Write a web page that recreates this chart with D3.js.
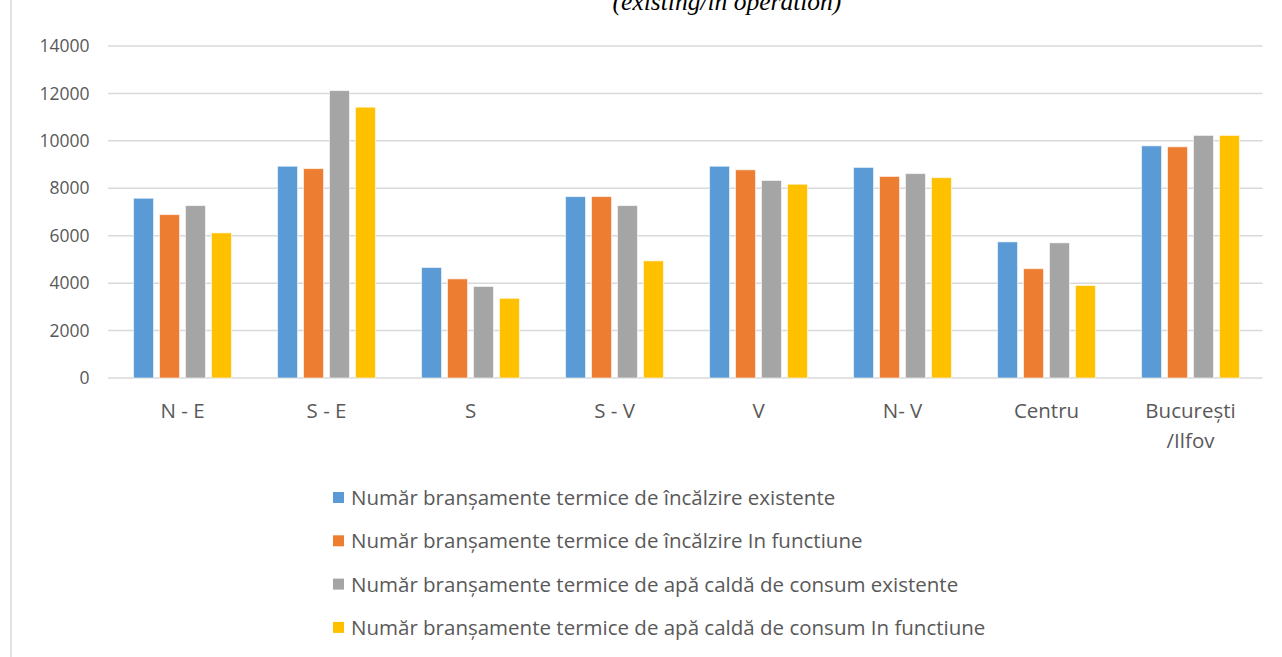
<!DOCTYPE html>
<meta charset="utf-8">
<style>
body { margin: 0; background: #fff; }
.grid line { stroke: #d9d9d9; stroke-width: 1.5px; }
.axis text, .cat text { fill: #595959; font-family: "Open Sans", "Liberation Sans", sans-serif; }
.axis path, .axis line { display: none; }
.legend text { fill: #595959; font-family: "Open Sans", "Liberation Sans", sans-serif; }
</style>
<svg width="1282" height="657"></svg>
<script src="https://cdn.jsdelivr.net/npm/d3@7"></script>
<script>

var regions = ["N - E", "S - E", "S", "S - V", "V", "N- V", "Centru", "București\n/Ilfov"];

var seriesNames = [
  "Număr branșamente termice de încălzire existente",
  "Număr branșamente termice de încălzire In functiune",
  "Număr branșamente termice de apă caldă de consum existente",
  "Număr branșamente termice de apă caldă de consum In functiune"
];

var heatExisting   = [7580, 8930, 4660, 7650, 8930, 8880, 5740, 9790];
var heatOperating  = [6890, 8830, 4180, 7650, 8780, 8500, 4610, 9750];
var waterExisting  = [7270, 12120, 3860, 7270, 8330, 8620, 5700, 10230];
var waterOperating = [6120, 11420, 3360, 4940, 8170, 8450, 3900, 10230];

var yTicks = [0, 2000, 4000, 6000, 8000, 10000, 12000, 14000];
var colors = ["#5B9BD5", "#ED7D31", "#A5A5A5", "#FFC000"];

var seriesValues = [heatExisting, heatOperating, waterExisting, waterOperating];

var svg = d3.select("svg"),
    margin = {top: 46, right: 19.5, bottom: 279, left: 110.5},
    width = +svg.attr("width") - margin.left - margin.right,
    height = +svg.attr("height") - margin.top - margin.bottom;

// chart frame (only left edge visible)
svg.append("line")
    .attr("x1", 11).attr("x2", 11)
    .attr("y1", 0).attr("y2", 657)
    .attr("stroke", "#d9d9d9").attr("stroke-width", 1.5);

// title, cut by the top edge as in the source
svg.append("text")
    .attr("x", 727).attr("y", 10)
    .attr("text-anchor", "middle")
    .style("font-family", "'Liberation Serif', serif")
    .style("font-style", "italic")
    .style("font-size", "25.5px")
    .attr("fill", "#000")
    .text("(existing/in operation)");

var g = svg.append("g").attr("transform", "translate(" + margin.left + "," + margin.top + ")");

var x0 = d3.scaleBand().domain(regions).range([0, width]).paddingInner(0.32).paddingOuter(0.16);
var x1 = d3.scaleBand().domain(d3.range(4)).range([0, x0.bandwidth()]).paddingInner(0.23);
var y = d3.scaleLinear().domain([0, 14000]).range([height, 0]);

g.append("g").attr("class", "grid")
  .selectAll("line")
  .data(yTicks)
  .enter().append("line")
    .attr("x1", -2.5).attr("x2", width)
    .attr("y1", function(d) { return y(d); })
    .attr("y2", function(d) { return y(d); });

g.append("g")
    .attr("class", "axis")
    .attr("transform", "translate(-21,0)")
    .call(d3.axisLeft(y).tickValues(yTicks).tickSize(0).tickPadding(0).tickFormat(d3.format("d")))
    .selectAll("text").style("font-size", "17.5px");

var groups = g.selectAll(".grp")
  .data(regions)
  .enter().append("g")
    .attr("class", "grp")
    .attr("transform", function(d) { return "translate(" + x0(d) + ",0)"; });

groups.selectAll("rect")
  .data(function(d, i) { return seriesValues.map(function(s, k) { return {k: k, v: s[i]}; }); })
  .enter().append("rect")
    .attr("x", function(d) { return x1(d.k); })
    .attr("width", x1.bandwidth())
    .attr("y", function(d) { return y(d.v); })
    .attr("height", function(d) { return height - y(d.v); })
    .attr("fill", function(d) { return colors[d.k]; })
    .attr("stroke", "#ffffff")
    .attr("stroke-opacity", 0.6)
    .attr("stroke-width", 1);

// category labels
var cat = g.append("g").attr("class", "cat")
  .selectAll("text")
  .data(regions)
  .enter().append("text")
    .attr("text-anchor", "middle")
    .style("font-size", "20.5px")
    .attr("transform", function(d) { return "translate(" + (x0(d) + x0.bandwidth() / 2) + "," + (height + 39.5) + ")"; });

cat.selectAll("tspan")
  .data(function(d) { return d.split("\n"); })
  .enter().append("tspan")
    .attr("x", 0)
    .attr("dy", function(d, i) { return i === 0 ? 0 : 30; })
    .text(function(d) { return d; });

// legend
var legend = svg.append("g").attr("class", "legend")
  .selectAll("g")
  .data(seriesNames)
  .enter().append("g")
    .attr("transform", function(d, i) { return "translate(333," + (498 + i * 43.3) + ")"; });

legend.append("rect")
    .attr("x", 0).attr("y", -6)
    .attr("width", 11).attr("height", 11)
    .attr("fill", function(d, i) { return colors[i]; });

legend.append("text")
    .attr("x", 18).attr("dy", "0.35em")
    .style("font-size", "20.5px")
    .text(function(d) { return d; });

</script>
